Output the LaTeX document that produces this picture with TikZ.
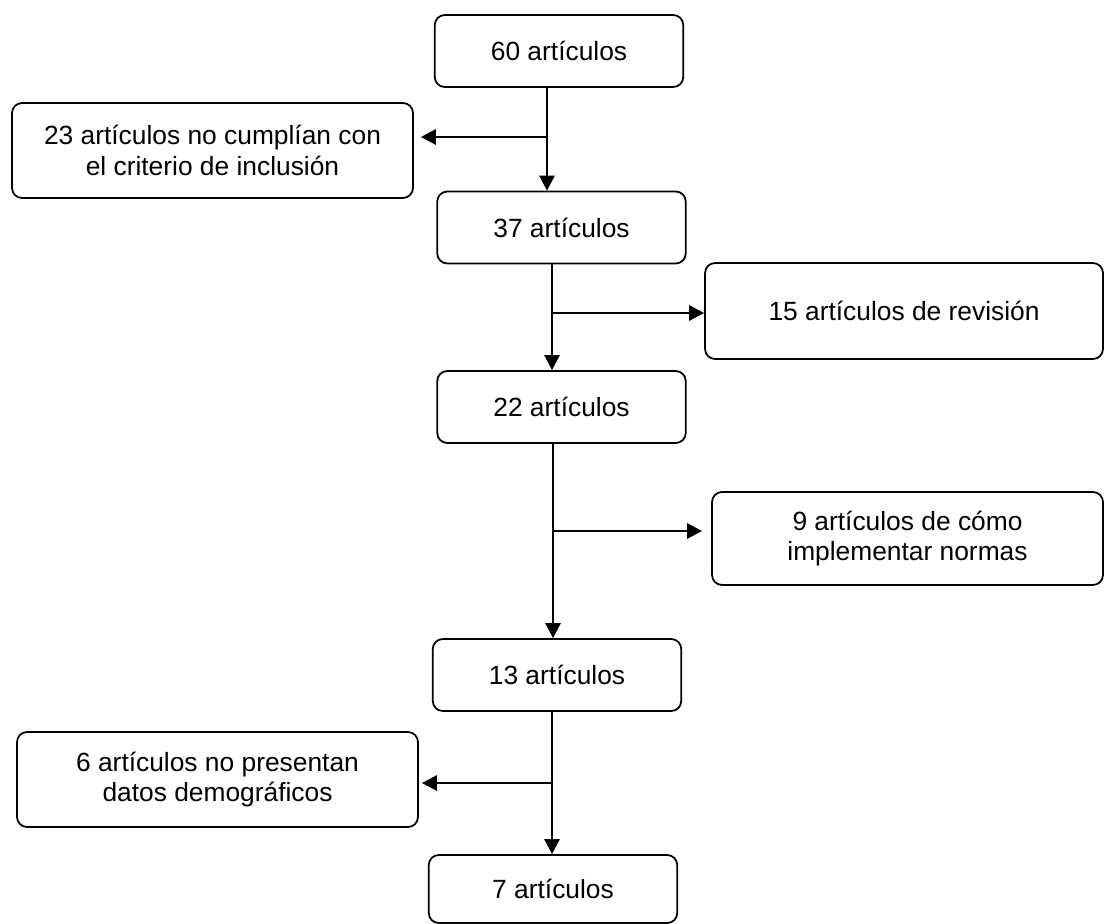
\documentclass[tikz,border=0pt]{standalone}
\usepackage{fontspec}
\setmainfont{Liberation Sans}
\usetikzlibrary{arrows.meta}

\begin{document}
\begin{tikzpicture}[%
    x=0.02cm, y=-0.02cm,                      % one unit per pixel, y runs down
    >={Triangle[length=8.5pt,width=8.5pt]},   % Solid arrow heads
    font=\fontsize{15}{17.5}\selectfont,      % Text size for all boxes
    ]
% -------------------------------------------------
% Box and connector styles
\tikzset{
  base/.style={draw, line width=1pt, rounded corners=0.2cm, align=center, inner sep=0pt},
  proc/.style={base, minimum width=4.97cm, minimum height=1.44cm},
  side/.style={base, minimum width=8.02cm, minimum height=1.9cm},
  % Connector line style
  norm/.style={->, draw, line width=1.5pt}
}
\useasboundingbox (0,0) rectangle (1104,923);
% -------------------------------------------------
% Main column of boxes
\node [proc] (n60) at (559,51) {60 artículos};
\node [proc] (n37) at (561.5,227.5) {37 artículos};
\node [proc] (n22) at (561.5,407) {22 artículos};
\node [proc] (n13) at (557,675) {13 artículos};
\node [proc, minimum height=1.36cm] (n7) at (553,889) {7 artículos};
% Excluded articles on the sides
\node [side] (n23) at (212.5,150.5) {23 artículos no cumplían con\\el criterio de inclusión};
\node [side, minimum width=7.96cm, minimum height=1.92cm] (n15) at (904,311) {15 artículos de revisión};
\node [side, minimum width=7.82cm, minimum height=1.86cm] (n9) at (907.5,538.5) {9 artículos de cómo\\implementar normas};
\node [side] (n6) at (217.5,779.5) {6 artículos no presentan\\datos demográficos};
% -------------------------------------------------
% Branch points on the vertical lines
\coordinate (b1) at (547,137);
\coordinate (b2) at (552,313);
\coordinate (b3) at (553,531);
\coordinate (b4) at (552,783);
% Connectors
\draw [norm] (b1 |- n60.south) -- (b1 |- n37.north);
\draw [norm, shorten >=0.14cm] (b1) -- (n23.east |- b1);
\draw [norm] (b2 |- n37.south) -- (b2 |- n22.north);
\draw [norm] (b2) -- (n15.west |- b2);
\draw [norm] (b3 |- n22.south) -- (b3 |- n13.north);
\draw [norm, shorten >=0.18cm] (b3) -- (n9.west |- b3);
\draw [norm] (b4 |- n13.south) -- (b4 |- n7.north);
\draw [norm, shorten >=0.06cm] (b4) -- (n6.east |- b4);
% -------------------------------------------------
\end{tikzpicture}
\end{document}
